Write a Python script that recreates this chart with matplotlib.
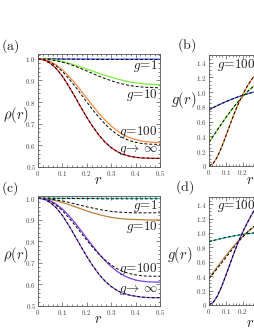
import matplotlib
matplotlib.use('Agg')
import matplotlib.pyplot as plt
from matplotlib.ticker import MultipleLocator, AutoMinorLocator, FuncFormatter

plt.rcParams['mathtext.fontset'] = 'cm'
plt.rcParams['font.family'] = ['DejaVu Serif']

# r grid used for the density panels (a), (c)
r = [0.0, 0.025, 0.05, 0.075, 0.1, 0.125, 0.15, 0.175, 0.2, 0.225, 0.25,
     0.275, 0.3, 0.325, 0.35, 0.375, 0.4, 0.425, 0.45, 0.475, 0.5]
# r grid for the visible part of panels (b), (d)
r_g = [0.0, 0.025, 0.05, 0.075, 0.1, 0.125, 0.15, 0.175, 0.2, 0.225, 0.25, 0.275, 0.3]

# panel (a): rho(r)
rho_a_g1 = [1.000, 1.000, 1.000, 1.000, 0.999, 0.999, 0.999, 0.999, 0.999, 0.999, 0.999,
            0.999, 0.999, 0.999, 0.999, 0.999, 0.999, 0.999, 0.999, 0.999, 0.999]
rho_a_g1_ref = [1.000, 1.000, 1.000, 0.999, 0.999, 0.999, 0.999, 0.998, 0.998, 0.998, 0.998,
                0.997, 0.997, 0.997, 0.997, 0.997, 0.997, 0.997, 0.997, 0.997, 0.997]
rho_a_g10 = [1.000, 0.999, 0.997, 0.993, 0.988, 0.981, 0.972, 0.963, 0.953, 0.943, 0.933,
             0.924, 0.915, 0.907, 0.900, 0.894, 0.889, 0.886, 0.883, 0.882, 0.881]
rho_a_g10_ref = [1.000, 0.999, 0.996, 0.991, 0.985, 0.977, 0.967, 0.956, 0.944, 0.932, 0.920,
                 0.909, 0.899, 0.890, 0.883, 0.877, 0.873, 0.870, 0.868, 0.867, 0.866]
rho_a_g100 = [1.000, 0.997, 0.988, 0.972, 0.950, 0.922, 0.890, 0.855, 0.818, 0.782, 0.748,
              0.717, 0.690, 0.667, 0.649, 0.636, 0.627, 0.620, 0.616, 0.614, 0.613]
rho_a_g100_ref = [1.000, 0.996, 0.985, 0.967, 0.942, 0.911, 0.876, 0.839, 0.801, 0.764, 0.730,
                  0.699, 0.672, 0.650, 0.634, 0.622, 0.614, 0.609, 0.606, 0.605, 0.605]
rho_a_inf = [1.000, 0.995, 0.980, 0.955, 0.920, 0.876, 0.828, 0.778, 0.730, 0.686, 0.647,
             0.615, 0.590, 0.571, 0.558, 0.550, 0.545, 0.542, 0.541, 0.540, 0.540]

# panel (c): rho(r)
rho_c_g1 = rho_a_g1
rho_c_g1_ref = [1.000, 1.000, 1.000, 0.999, 0.999, 0.999, 0.998, 0.998, 0.998, 0.998, 0.997,
                0.997, 0.997, 0.997, 0.997, 0.997, 0.997, 0.997, 0.997, 0.997, 0.997]
rho_c_g10 = [1.000, 0.998, 0.994, 0.988, 0.980, 0.971, 0.961, 0.951, 0.941, 0.932, 0.924,
             0.917, 0.911, 0.907, 0.904, 0.902, 0.901, 0.900, 0.899, 0.899, 0.899]
rho_c_g10_ref = [1.000, 0.999, 0.996, 0.992, 0.987, 0.981, 0.974, 0.967, 0.960, 0.954, 0.948,
                 0.943, 0.939, 0.936, 0.934, 0.933, 0.932, 0.932, 0.932, 0.932, 0.932]
rho_c_g100 = [1.000, 0.997, 0.988, 0.972, 0.950, 0.921, 0.888, 0.852, 0.814, 0.777, 0.742,
              0.710, 0.683, 0.660, 0.642, 0.629, 0.620, 0.615, 0.612, 0.611, 0.610]
rho_c_g100_ref = [1.000, 0.996, 0.985, 0.967, 0.942, 0.911, 0.877, 0.841, 0.805, 0.771, 0.740,
                  0.713, 0.690, 0.672, 0.659, 0.650, 0.644, 0.640, 0.638, 0.638, 0.638]
rho_c_inf = [1.000, 0.995, 0.980, 0.955, 0.920, 0.876, 0.828, 0.778, 0.730, 0.686, 0.647,
             0.615, 0.590, 0.571, 0.558, 0.550, 0.545, 0.541, 0.539, 0.538, 0.538]

# panel (b): g(r)
g_b_g1 = [0.760, 0.790, 0.818, 0.845, 0.870, 0.894, 0.916, 0.937, 0.956, 0.974, 0.990, 1.005, 1.019]
g_b_g10 = [0.320, 0.405, 0.490, 0.573, 0.654, 0.732, 0.806, 0.876, 0.940, 0.998, 1.050, 1.095, 1.133]
g_b_g100 = [0.000, 0.035, 0.125, 0.255, 0.405, 0.560, 0.710, 0.845, 0.965, 1.070, 1.160, 1.235, 1.300]

# panel (d): g(r)
g_d_g1 = [0.880, 0.895, 0.910, 0.924, 0.937, 0.949, 0.960, 0.970, 0.979, 0.988, 0.996, 1.003, 1.009]
g_d_g10 = [0.370, 0.450, 0.530, 0.608, 0.684, 0.757, 0.826, 0.891, 0.951, 1.005, 1.053, 1.095, 1.130]
g_d_g10_ref = [0.365, 0.435, 0.508, 0.583, 0.658, 0.733, 0.806, 0.877, 0.944, 1.005, 1.060, 1.108, 1.150]
g_d_g100 = [0.000, 0.035, 0.125, 0.255, 0.410, 0.570, 0.730, 0.880, 1.010, 1.130, 1.240, 1.340, 1.430]

frame_col = '#555555'
lw = 0.9
dash = (3, 2)


def fmt(v, p):
    if abs(v) < 1e-9:
        return r'$0$'
    return r'$%.1f$' % v


def style(ax, ymaj, yminor_n):
    ax.xaxis.set_major_locator(MultipleLocator(0.1))
    ax.xaxis.set_minor_locator(AutoMinorLocator(5))
    ax.yaxis.set_major_locator(MultipleLocator(ymaj))
    ax.yaxis.set_minor_locator(AutoMinorLocator(yminor_n))
    ax.xaxis.set_major_formatter(FuncFormatter(fmt))
    ax.yaxis.set_major_formatter(FuncFormatter(fmt))
    ax.tick_params(which='both', direction='in', top=True, right=True,
                   color=frame_col, width=0.5, labelsize=5, labelcolor='#444444', pad=1.5)
    ax.tick_params(which='major', length=3)
    ax.tick_params(which='minor', length=1.5)
    for s in ax.spines.values():
        s.set_color(frame_col)
        s.set_linewidth(0.6)


fig = plt.figure(figsize=(2.55, 3.3), dpi=100)

# (a)
ax = fig.add_axes([0.149, 0.494, 0.478, 0.342])
ax.plot(r, rho_a_g1, color='#4a5cf0', lw=lw)
ax.plot(r, rho_a_g1_ref, color='k', lw=0.7, dashes=dash)
ax.plot(r, rho_a_g10, color='#7ef03a', lw=lw)
ax.plot(r, rho_a_g10_ref, color='k', lw=0.7, dashes=dash)
ax.plot(r, rho_a_g100, color='#ff8a3c', lw=lw)
ax.plot(r, rho_a_g100_ref, color='k', lw=0.7, dashes=dash)
ax.plot(r, rho_a_inf, color='#ff3030', lw=lw)
ax.plot(r, rho_a_inf, color='k', lw=0.7, dashes=dash)
ax.set_xlim(0, 0.5)
ax.set_ylim(0.5, 1.022)
style(ax, 0.1, 5)
ax.text(0.49, 0.966, r'$g\!=\!1$', ha='right', va='center', fontsize=9.5, color='#222222')
ax.text(0.49, 0.831, r'$g\!=\!10$', ha='right', va='center', fontsize=9.5, color='#222222')
ax.text(0.49, 0.662, r'$g\!=\!100$', ha='right', va='center', fontsize=9.5, color='#222222')
ax.text(0.49, 0.578, r'$g\!\to\,\infty$', ha='right', va='center', fontsize=9.5, color='#222222')

# (c)
ax = fig.add_axes([0.149, 0.073, 0.478, 0.333])
ax.plot(r, rho_c_g1, color='#3ee0c0', lw=lw)
ax.plot(r, rho_c_g1_ref, color='k', lw=0.7, dashes=dash)
ax.plot(r, rho_c_g10, color='#b8823c', lw=lw)
ax.plot(r, rho_c_g10_ref, color='k', lw=0.7, dashes=dash)
ax.plot(r, rho_c_g100, color='#7a3ee8', lw=lw)
ax.plot(r, rho_c_g100_ref, color='k', lw=0.7, dashes=dash)
ax.plot(r, rho_c_inf, color='#a464f4', lw=lw)
ax.plot(r, rho_c_inf, color='k', lw=0.7, dashes=dash)
ax.set_xlim(0, 0.5)
ax.set_ylim(0.5, 1.01)
style(ax, 0.1, 5)
ax.text(0.49, 0.962, r'$g\!=\!1$', ha='right', va='center', fontsize=9.5, color='#222222')
ax.text(0.49, 0.868, r'$g\!=\!10$', ha='right', va='center', fontsize=9.5, color='#222222')
ax.text(0.49, 0.672, r'$g\!=\!100$', ha='right', va='center', fontsize=9.5, color='#222222')
ax.text(0.49, 0.576, r'$g\!\to\,\infty$', ha='right', va='center', fontsize=9.5, color='#222222')

# (b)
ax = fig.add_axes([0.8196, 0.497, 0.33, 0.336])
ax.plot(r_g, g_b_g1, color='#4a5cf0', lw=lw)
ax.plot(r_g, g_b_g1, color='k', lw=0.7, dashes=dash)
ax.plot(r_g, g_b_g10, color='#7ef03a', lw=lw)
ax.plot(r_g, g_b_g10, color='k', lw=0.7, dashes=dash)
ax.plot(r_g, g_b_g100, color='#ff8a3c', lw=lw)
ax.plot(r_g, g_b_g100, color='k', lw=0.7, dashes=dash)
ax.set_xlim(0, 0.5)
ax.set_ylim(0, 1.5)
style(ax, 0.2, 4)
ax.text(0.165, 1.36, r'$g\!=\!100$', ha='center', va='center', fontsize=9.5, color='#222222')

# (d)
ax = fig.add_axes([0.8196, 0.076, 0.33, 0.327])
ax.plot(r_g, g_d_g1, color='#3ee0c0', lw=lw)
ax.plot(r_g, g_d_g1, color='k', lw=0.7, dashes=dash)
ax.plot(r_g, g_d_g10, color='#b8823c', lw=lw)
ax.plot(r_g, g_d_g10_ref, color='k', lw=0.7, dashes=dash)
ax.plot(r_g, g_d_g100, color='#7a3ee8', lw=lw)
ax.plot(r_g, g_d_g100, color='k', lw=0.7, dashes=dash)
ax.set_xlim(0, 0.5)
ax.set_ylim(0, 1.5)
style(ax, 0.2, 4)
ax.text(0.165, 1.38, r'$g\!=\!100$', ha='center', va='center', fontsize=9.5, color='#222222')

# axis labels and panel tags
lab = dict(fontsize=10.5, color='#222222', ha='center', va='center')
fig.text(0.062, 0.652, r'$\rho(r)$', **lab)
fig.text(0.062, 0.227, r'$\rho(r)$', **lab)
fig.text(0.384, 0.455, r'$r$', **lab)
fig.text(0.384, 0.034, r'$r$', **lab)
fig.text(0.722, 0.697, r'$g(r)$', **lab)
fig.text(0.706, 0.227, r'$g(r)$', **lab)
fig.text(0.98, 0.455, r'$r$', **lab)
fig.text(0.98, 0.022, r'$r$', **lab)
tag = dict(fontsize=10, color='#222222', ha='center', va='center')
fig.text(0.039, 0.861, r'$\mathrm{(a)}$', **tag)
fig.text(0.039, 0.430, r'$\mathrm{(c)}$', **tag)
fig.text(0.733, 0.864, r'$\mathrm{(b)}$', **tag)
fig.text(0.725, 0.433, r'$\mathrm{(d)}$', **tag)

fig.savefig('out.png', dpi=100)
